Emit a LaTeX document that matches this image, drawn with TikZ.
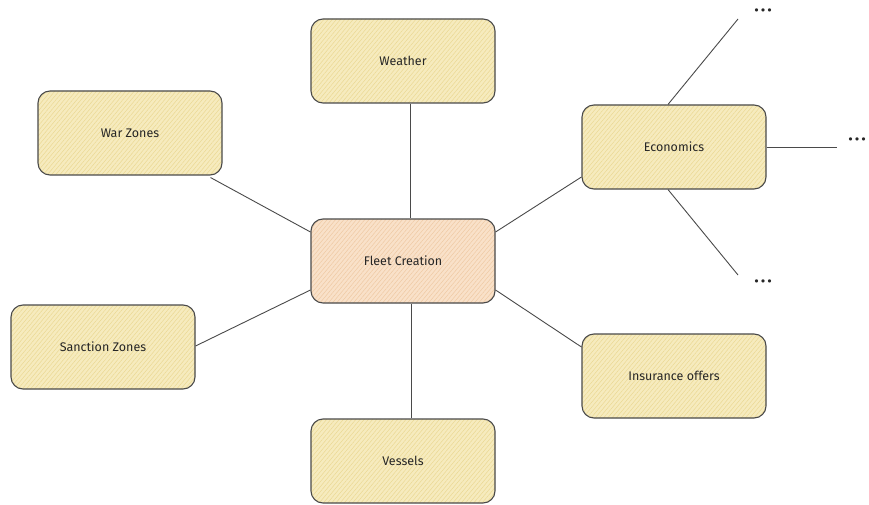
\documentclass[tikz,border=0pt]{standalone}
\usepackage{fontspec}
\setmainfont{Fira Sans}
\newfontfamily\dotfont{DejaVu Sans}
\usetikzlibrary{patterns.meta}
\definecolor{boxfill}{HTML}{F6EBBE}
\definecolor{boxhatch}{HTML}{EBD893}
\definecolor{hubfill}{HTML}{F9E1C9}
\definecolor{hubhatch}{HTML}{EFC9A3}
\definecolor{edge}{HTML}{4A4A4A}
\tikzset{
  x=1pt,y=-1pt,
  topic/.style={draw=edge, line width=1.1pt, rounded corners=12pt,
    minimum width=184pt, minimum height=84pt, inner sep=0pt,
    font=\fontsize{12.5}{14}\selectfont, text=black!85,
    preaction={fill=boxfill},
    preaction={pattern={Lines[angle=50,distance=3.2pt,line width=0.5pt]}, pattern color=boxhatch}},
  hub/.style={draw=edge, line width=1.1pt, rounded corners=12pt,
    minimum width=184pt, minimum height=84pt, inner sep=0pt,
    font=\fontsize{12.5}{14}\selectfont, text=black!85,
    preaction={fill=hubfill},
    preaction={pattern={Lines[angle=50,distance=3.2pt,line width=0.5pt]}, pattern color=hubhatch}},
  link/.style={draw=edge, line width=0.9pt},
  dots/.style={font=\dotfont\fontsize{11}{12}\selectfont, inner sep=0pt, text=black!85}
}
\begin{document}
\begin{tikzpicture}
\useasboundingbox (0,0) rectangle (869,505);
\fill[white] (0,0) rectangle (869,505);
\node[hub] (fleet) at (403,261) {Fleet Creation};
\node[topic] (weather) at (403,61) {Weather};
\node[topic] (war) at (130,133) {War Zones};
\node[topic] (econ) at (674,147) {Economics};
\node[topic] (sanction) at (103,347) {Sanction Zones};
\node[topic] (insur) at (674,376) {Insurance offers};
\node[topic] (vessels) at (403,461) {Vessels};
\node[dots] (d1) at (763,12) {•••};
\node[dots] (d2) at (857,141) {•••};
\node[dots] (d3) at (763,283) {•••};
\coordinate (e1) at (738,19);
\coordinate (e2) at (837,147);
\coordinate (e3) at (738,275);
\draw[link] (weather.south -| 410,0) -- (fleet.north -| 410,0);
\draw[link] (vessels.north -| 411,0) -- (fleet.south -| 411,0);
\draw[link] (war.south east) ++(-12,2) -- (fleet.west |- 0,232);
\draw[link] (econ.west |- 0,177) -- (fleet.east |- 0,232);
\draw[link] (sanction.east |- 0,346) -- (fleet.west |- 0,290);
\draw[link] (fleet.east |- 0,290) -- (insur.west |- 0,347);
\draw[link] (econ.north -| 668,0) -- (e1);
\draw[link] (econ.east) -- (e2);
\draw[link] (econ.south -| 668,0) -- (e3);
\end{tikzpicture}
\end{document}
